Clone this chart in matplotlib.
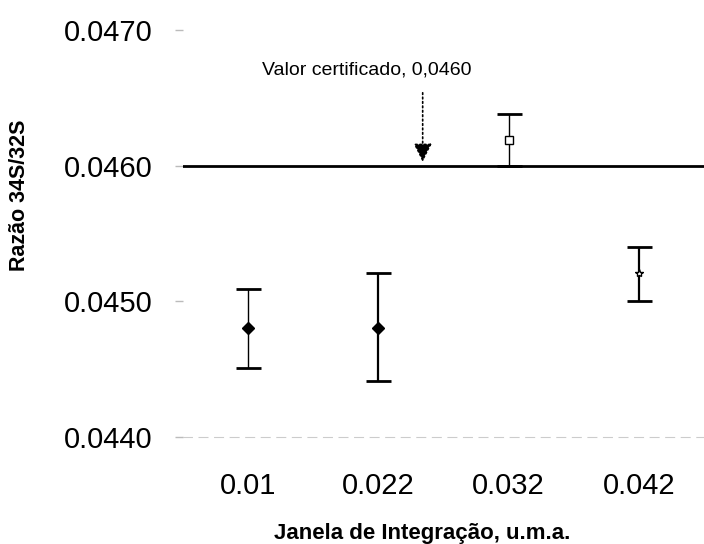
import matplotlib.pyplot as plt

plt.rcParams["font.family"] = ["Liberation Sans", "DejaVu Sans"]

# Dados
janelas = ["0.01", "0.022", "0.032", "0.042"]
razao = [0.04480, 0.04480, 0.04619, 0.04521]
erro_sup = [0.04509, 0.04521, 0.04638, 0.04540]
erro_inf = [0.04451, 0.04441, 0.04600, 0.04500]
valor_cert = 0.0460
marcadores = ["D", "D", "s", "*"]
preenchido = [True, True, False, False]

fig = plt.figure(figsize=(7.04, 5.44), dpi=100)
ax = fig.add_axes([0.26, 0.197, 0.74, 0.747])

ax.axhline(valor_cert, color="black", linewidth=2)

for i in range(len(janelas)):
    lw = 1.6 if i in (1, 3) else 1.0
    ax.errorbar(i, razao[i],
                yerr=[[razao[i] - erro_inf[i]], [erro_sup[i] - razao[i]]],
                fmt="none", ecolor="black", elinewidth=lw, capsize=9, capthick=2)
    ax.plot(i, razao[i], marker=marcadores[i], markersize=6,
            color="black", markerfacecolor="black" if preenchido[i] else "white",
            linestyle="none")

# Texto e seta do valor certificado
ax.text(0.91, 0.04671, "Valor certificado, 0,0460", ha="center", va="center", fontsize=14)
ax.annotate("", xy=(1.34, valor_cert + 0.00003), xytext=(1.34, 0.04654),
            arrowprops=dict(arrowstyle="-|>", color="black", lw=1.2, mutation_scale=28,
                            linestyle=":", shrinkA=0, shrinkB=0))

ax.set_xlim(-0.5, 3.5)
ax.set_ylim(0.0440, 0.0470)
ax.set_xticks(range(len(janelas)))
ax.set_xticklabels(janelas)
ax.set_yticks([0.0440, 0.0450, 0.0460, 0.0470])
ax.set_yticklabels(["0.0440", "0.0450", "0.0460", "0.0470"])
ax.tick_params(axis="y", labelsize=21, length=6, width=1, color="#bbbbbb", pad=16)
ax.tick_params(axis="x", labelsize=21, length=0, pad=25)

for lado in ["top", "right", "left"]:
    ax.spines[lado].set_visible(False)
ax.spines["bottom"].set_color("#cccccc")
ax.spines["bottom"].set_linestyle((0, (8, 6)))

ax.set_xlabel("Janela de Integração, u.m.a.", fontsize=16, fontweight="bold")
ax.xaxis.set_label_coords(0.459, -0.213)
ax.set_ylabel("Razão 34S/32S", fontsize=15.5, fontweight="bold")
ax.yaxis.set_label_coords(-0.294, 0.595)

fig.savefig("out.png", dpi=100)
